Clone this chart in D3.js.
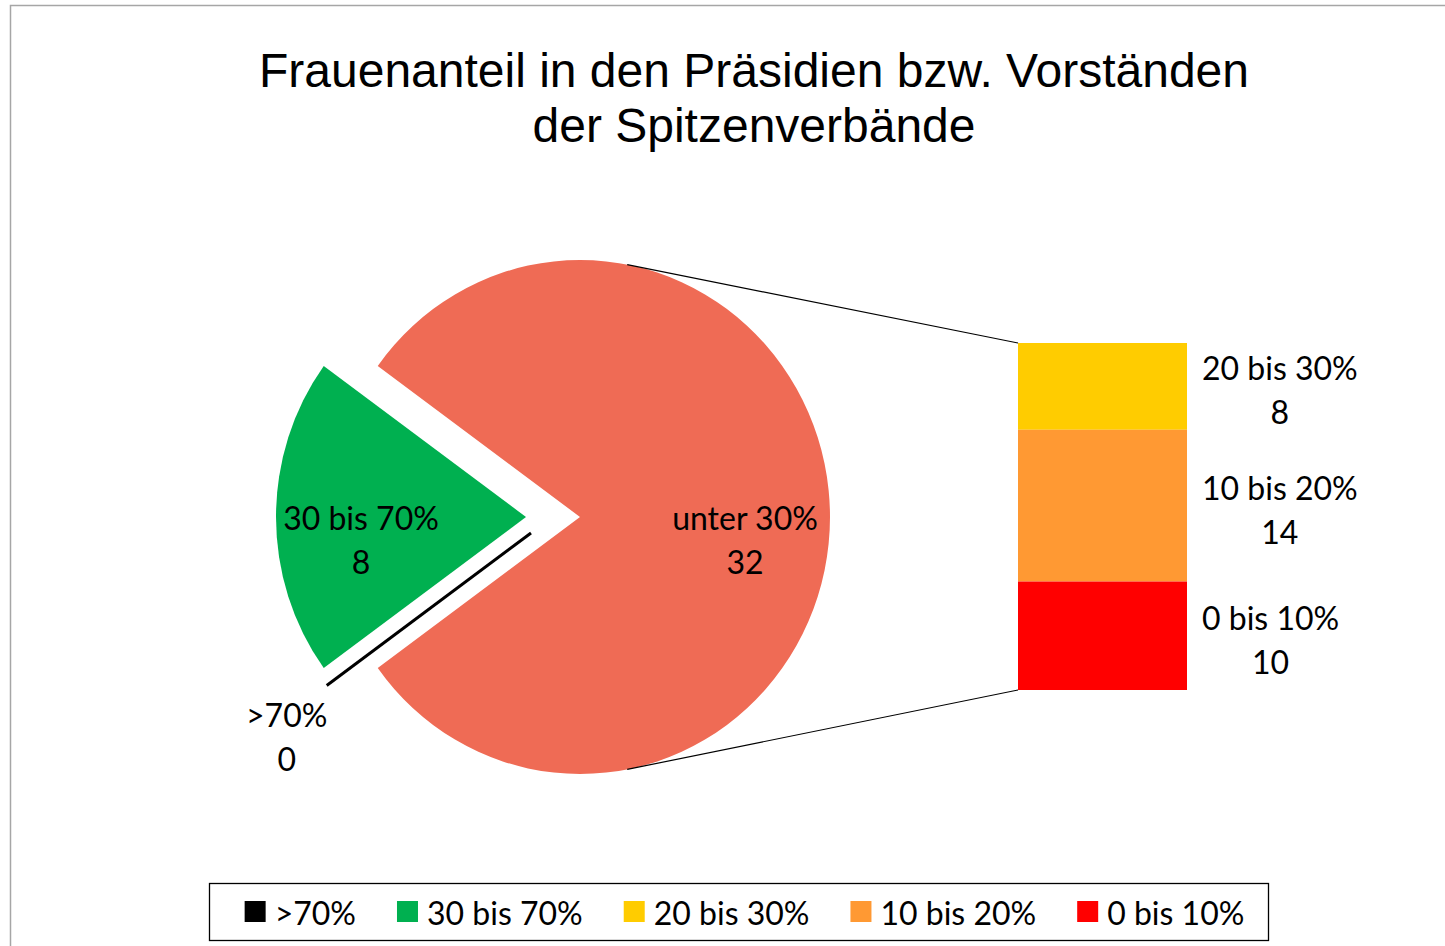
<!DOCTYPE html>
<html>
<head>
<meta charset="utf-8">
<script src="https://cdn.jsdelivr.net/npm/d3@7"></script>
<style>
  body { margin: 0; background: #fff; }
  svg { display: block; }
</style>
</head>
<body>
<svg id="chart" width="1445" height="946"></svg>
<script>
// Daten: Hauptkreis
var pieLabels = [">70%", "30 bis 70%", "unter 30%"];
var pieValues = [0, 8, 32];
var pieColors = ["#000000", "#00B050", "#EF6B55"];

// Daten: Balken (Aufteilung von "unter 30%")
var barLabels = ["20 bis 30%", "10 bis 20%", "0 bis 10%"];
var barValues = [8, 14, 10];
var barColors = ["#FFCC00", "#FF9933", "#FF0000"];

// Legende
var legendLabels = [">70%", "30 bis 70%", "20 bis 30%", "10 bis 20%", "0 bis 10%"];
var legendColors = ["#000000", "#00B050", "#FFCC00", "#FF9933", "#FF0000"];

var titleLines = ["Frauenanteil in den Präsidien bzw. Vorständen", "der Spitzenverbände"];

var svg = d3.select("#chart");
var labelFont = "Lato, 'Open Sans', sans-serif";
var labelSize = "32px";

// Rahmen
svg.append("rect")
    .attr("x", 10.5).attr("y", 5.5)
    .attr("width", 1500).attr("height", 1000)
    .attr("fill", "#fff")
    .attr("stroke", "#a6a6a6")
    .attr("stroke-width", 1.5);

// Titel
svg.append("text")
    .attr("x", 754)
    .attr("y", 87)
    .attr("text-anchor", "middle")
    .style("font-family", "'Liberation Sans', Arial, sans-serif")
    .style("font-size", "48px")
    .selectAll("tspan")
    .data(titleLines)
    .enter().append("tspan")
        .attr("x", 754)
        .attr("dy", (d, i) => i === 0 ? 0 : 55)
        .text(d => d);

// Kreis (leicht elliptisch wie im Original)
var cx = 580, cy = 517, r = 250, sy = 1.028;

// "unter 30%" rechts zentriert, "30 bis 70%" links
var total = d3.sum(pieValues);
var redShare = pieValues[2] / total;
var arcs = d3.pie().sort(null).value(d => d)
    .startAngle(Math.PI / 2 + redShare * Math.PI)
    .endAngle(Math.PI / 2 + redShare * Math.PI + 2 * Math.PI)(pieValues);

var arc = d3.arc().innerRadius(0).outerRadius(r);
var labelArc = d3.arc().innerRadius(r * 0.66).outerRadius(r * 0.66);

// Explosion je Segment
var explode = [[-49, 16], [-54, 0], [0, 0]];

var pieG = svg.append("g")
    .attr("transform", "translate(" + cx + "," + cy + ") scale(1," + sy + ")");
var pieLabelG = svg.append("g")
    .attr("transform", "translate(" + cx + "," + cy + ")");

arcs.forEach(function(a, i) {
    var g = pieG.append("g")
        .attr("transform", "translate(" + explode[i][0] + "," + explode[i][1] / sy + ")");
    if (a.value === 0) {
        // Nullsegment als Linie
        var ang = a.startAngle;
        g.append("line")
            .attr("x1", 0).attr("y1", 0)
            .attr("x2", r * 1.01 * Math.sin(ang)).attr("y2", -r * 1.01 * Math.cos(ang))
            .attr("stroke", "#000").attr("stroke-width", 3)
            .attr("vector-effect", "non-scaling-stroke");
    } else {
        g.append("path")
            .attr("d", arc(a))
            .attr("fill", pieColors[i]);
    }
});

// Verbindungslinien zum Balken
var barX = 1018, barW = 169;
var yBar = d3.scaleLinear().domain([0, d3.sum(barValues)]).range([343, 690]);
var connAngle = 0.19;
var connTop = [cx + r * Math.sin(connAngle), cy - r * sy * Math.cos(connAngle)];
var connBot = [cx + r * Math.sin(Math.PI - connAngle), cy - r * sy * Math.cos(Math.PI - connAngle)];
svg.append("line")
    .attr("x1", connTop[0]).attr("y1", connTop[1])
    .attr("x2", barX).attr("y2", yBar(0))
    .attr("stroke", "#000").attr("stroke-width", 1.2);
svg.append("line")
    .attr("x1", connBot[0]).attr("y1", connBot[1])
    .attr("x2", barX).attr("y2", yBar(d3.sum(barValues)))
    .attr("stroke", "#000").attr("stroke-width", 1.2);

// Beschriftung mit zwei Zeilen
function twoLineLabel(parent, x, y, l1, l2) {
    var t = parent.append("text")
        .attr("text-anchor", "middle")
        .style("font-family", labelFont)
        .style("font-size", labelSize)
        .attr("fill", "#000");
    t.append("tspan").attr("x", x).attr("y", y - 11).text(l1);
    t.append("tspan").attr("x", x).attr("y", y + 33).text(l2);
    return t;
}

arcs.forEach(function(a, i) {
    var pos;
    if (a.value === 0) {
        var ang = a.startAngle;
        pos = [r * 1.45 * Math.sin(ang), -r * 1.45 * sy * Math.cos(ang) + 2];
    } else {
        var c = labelArc.centroid(a);
        pos = [c[0] + explode[i][0], c[1] * sy + explode[i][1] + 24];
    }
    twoLineLabel(pieLabelG, pos[0], pos[1], pieLabels[i], String(pieValues[i]));
});

// Gestapelter Balken
var stack = [];
var acc = 0;
barValues.forEach(function(v, i) {
    stack.push({ y0: acc, y1: acc + v, label: barLabels[i], value: v, color: barColors[i] });
    acc += v;
});

svg.append("g").selectAll("rect")
    .data(stack)
    .enter().append("rect")
        .attr("x", barX)
        .attr("y", d => yBar(d.y0))
        .attr("width", barW)
        .attr("height", d => yBar(d.y1) - yBar(d.y0))
        .attr("fill", d => d.color);

// Balken-Beschriftungen: linksbündiger Block, Zeilen zentriert
stack.forEach(function(d) {
    var mid = (yBar(d.y0) + yBar(d.y1)) / 2 + 5;
    var t = twoLineLabel(svg, 0, mid, d.label, String(d.value));
    var w = t.node().getBBox().width;
    var x = barX + barW + 15 + w / 2;
    t.selectAll("tspan").attr("x", x);
});

// Legende
var legBox = { x: 209, y: 883, w: 1059, h: 57 };
svg.append("rect")
    .attr("x", legBox.x + 0.5).attr("y", legBox.y + 0.5)
    .attr("width", legBox.w).attr("height", legBox.h)
    .attr("fill", "#fff")
    .attr("stroke", "#000").attr("stroke-width", 1.3);

var legG = svg.append("g");
var items = legendLabels.map(function(lbl, i) {
    var g = legG.append("g");
    g.append("rect")
        .attr("x", 0).attr("y", 901)
        .attr("width", 21).attr("height", 21)
        .attr("fill", legendColors[i]);
    var t = g.append("text")
        .attr("x", 30).attr("y", 925)
        .style("font-family", labelFont)
        .style("font-size", labelSize)
        .text(lbl);
    return { g: g, w: 30 + t.node().getComputedTextLength() };
});
var gap = 41;
var totalW = d3.sum(items, d => d.w) + gap * (items.length - 1);
var lx = 744.5 - totalW / 2;
items.forEach(function(it) {
    it.g.attr("transform", "translate(" + lx + ",0)");
    lx += it.w + gap;
});
</script>
</body>
</html>
